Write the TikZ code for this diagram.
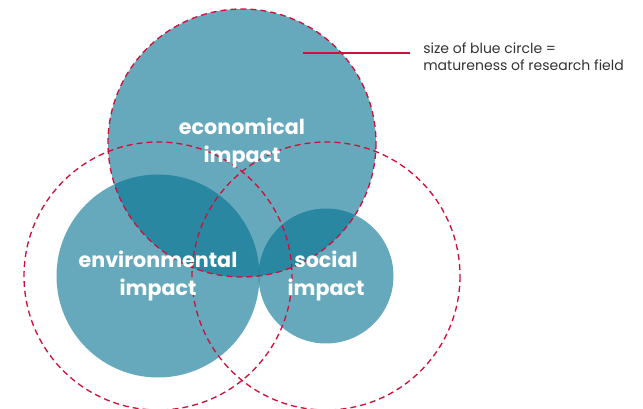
\documentclass[tikz,border=0pt]{standalone}
\usepackage{fontspec}
\setmainfont{Poppins}
\usetikzlibrary{positioning}
\definecolor{bubblecol}{HTML}{007090}
\definecolor{ringcol}{HTML}{D0103A}
\definecolor{notecol}{HTML}{333333}

\begin{document}
\begin{tikzpicture}[x=0.75pt,y=0.75pt,yscale=-1,xscale=1,
  bubble/.style={fill=bubblecol, fill opacity=0.6},
  ring/.style={draw=ringcol, line width=1pt, dash pattern=on 4.5pt off 3pt},
  label/.style={text=white, font=\fontsize{15.5}{21}\selectfont\bfseries, align=center, inner sep=0.75pt},
  note/.style={text=notecol, font=\fontsize{10.5}{12.75}\selectfont, align=left, anchor=west, inner sep=0.75pt}]
\useasboundingbox (0,0) rectangle (643,409);

% centres of the three fields
\coordinate (econ) at (242,143);
\coordinate (envi) at (158,276);
\coordinate (soci) at (326,276);

% Blue circles [size = matureness]
\fill [bubble] (econ) circle (134);
\fill [bubble] (envi) circle (101.5);
\fill [bubble] (soci) circle (67.5);

% Dashed circles
\draw [ring] (econ) circle (134);
\draw [ring] (envi) circle (134);
\draw [ring] (soci) circle (134);

% Text Node
\node [label] (econlabel) at (econ) {economical\\impact};
% Text Node
\node [label] (envilabel) at (envi) {environmental\\impact};
% Text Node
\node [label] (socilabel) at (soci) {social\\impact};

% Straight Lines
\coordinate (pin) at (303,53);
\coordinate (pinend) at (410,53);
\draw [draw=ringcol, line width=0.9pt] (pin) -- (pinend);

% Text Node
\node [note] (note) at (422,56.5) {size of blue circle =\\matureness of research field};

\end{tikzpicture}
\end{document}
